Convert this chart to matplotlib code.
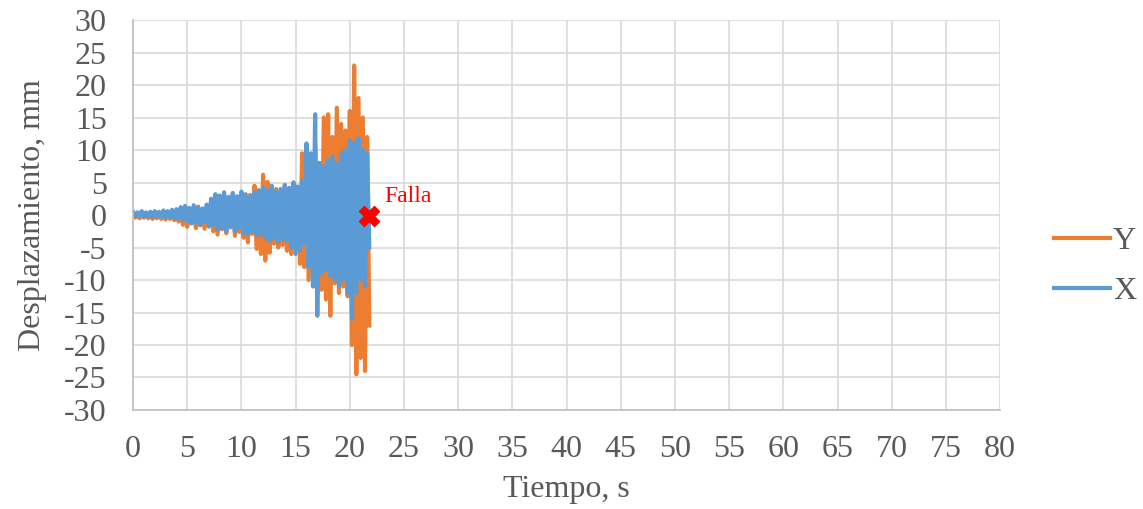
import numpy as np
import matplotlib.pyplot as plt

# sampled displacement peaks, one value every 0.2 s starting at t = 0
dt = 0.2
desp_y = [0.1, -0.4, 0.2, -0.5, 0.1, -0.4, 0.3, -0.5, 0.2, -0.6,
          0.3, -0.5, 0.2, -0.6, 0.4, -0.7, 0.3, -0.6, 0.5, -0.8,
          0.6, -1.0, 0.9, -1.5, 1.2, -1.8, 0.8, -1.2, 1.0, -2.0,
          1.3, -1.6, 0.9, -2.1, 1.1, -1.4, 1.5, -2.5, 1.2, -3.0,
          1.4, -2.2, 1.8, -2.8, 1.1, -1.9, 2.0, -3.2, 1.6, -2.6,
          2.8, -3.5, 2.2, -4.2, 3.1, -2.9, 4.5, -5.2, 3.8, -6.0,
          6.2, -7.0, 5.1, -5.8, 3.6, -4.4, 4.0, -5.0, 3.2, -4.6,
          4.6, -5.5, 3.8, -6.0, 5.0, -4.8, 4.2, -7.5, 9.5, -8.0,
          6.5, -10.0, 7.2, -8.5, 10.5, -12.0, 8.0, -11.5, 15.0, -13.0,
          15.5, -15.5, 12.0, -10.5, 16.5, -12.0, 14.0, -11.0, 13.0, -12.5,
          16.0, -20.0, 23.0, -24.5, 18.0, -22.0, 15.0, -24.0, 12.0, -17.0]
desp_x = [0.5, -0.2, 0.4, -0.1, 0.6, -0.3, 0.4, -0.2, 0.5, -0.3,
          0.6, -0.2, 0.5, -0.3, 0.7, -0.4, 0.6, -0.3, 0.8, -0.5,
          0.9, -0.6, 1.2, -0.8, 1.4, -1.0, 1.1, -1.3, 1.5, -1.2,
          1.2, -1.5, 1.0, -1.1, 1.6, -1.8, 2.5, -1.5, 3.2, -2.2,
          3.0, -2.0, 3.5, -2.5, 2.8, -1.8, 3.4, -2.6, 2.9, -2.0,
          3.6, -2.8, 3.2, -3.0, 2.9, -2.6, 3.5, -3.2, 3.8, -3.0,
          4.2, -3.6, 3.8, -4.0, 4.5, -3.5, 3.6, -4.2, 4.0, -3.8,
          4.6, -4.0, 4.2, -5.0, 5.0, -6.0, 4.4, -5.5, 5.2, -4.5,
          11.0, -8.0, 9.5, -11.0, 15.5, -15.5, 8.0, -9.0, 7.5, -8.5,
          8.5, -9.5, 9.0, -10.0, 8.0, -11.0, 9.5, -10.0, 10.0, -12.0,
          11.5, -16.0, 11.0, -12.0, 11.8, -10.0, 10.0, -11.0, 9.5, -5.0]
falla_t = 21.8
falla_d = -0.2

t_y = np.arange(len(desp_y)) * dt
t_x = np.arange(len(desp_x)) * dt

plt.rcParams['font.family'] = ['Liberation Serif', 'DejaVu Serif']
plt.rcParams['axes.unicode_minus'] = False
gris = '#595959'
fs = 23

fig = plt.figure(figsize=(11.43, 5.09), dpi=100)
ax = fig.add_axes([0.1164, 0.1945, 0.7586, 0.7662])

ax.plot(t_y, desp_y, color='#ED7D31', lw=3.0, label='Y', solid_joinstyle='round')
ax.plot(t_x, desp_x, color='#5B9BD5', lw=3.0, label='X', solid_joinstyle='round')
ax.plot(falla_t, falla_d, marker='X', color='red', markersize=14, mec='red', zorder=5)
ax.text(23.2, 2.8, 'Falla', color='red', fontsize=17, va='center')

ax.set_xlim(0, 80)
ax.set_ylim(-30, 30)
ax.set_xticks(range(0, 81, 5))
ax.set_yticks(range(-30, 31, 5))
ax.grid(True, color='#D9D9D9', lw=1.2)
ax.set_axisbelow(True)
ax.tick_params(length=0, labelsize=fs, colors=gris)
ax.tick_params(axis='y', pad=19)
ax.tick_params(axis='x', pad=18)
for s in ['top', 'right']:
    ax.spines[s].set_visible(False)
for s in ['left', 'bottom']:
    ax.spines[s].set_color('#BFBFBF')
    ax.spines[s].set_linewidth(1.2)

ax.set_xlabel('Tiempo, s', fontsize=fs, color=gris, labelpad=8)
ax.set_ylabel('Desplazamiento, mm', fontsize=fs, color=gris, labelpad=12)

fig.legend(loc='center left', bbox_to_anchor=(0.922, 0.477), frameon=False,
           fontsize=fs, labelcolor=gris, handlelength=1.75, handletextpad=0.1,
           labelspacing=0.65, borderpad=0, borderaxespad=0)

fig.savefig('out.png', dpi=100)
